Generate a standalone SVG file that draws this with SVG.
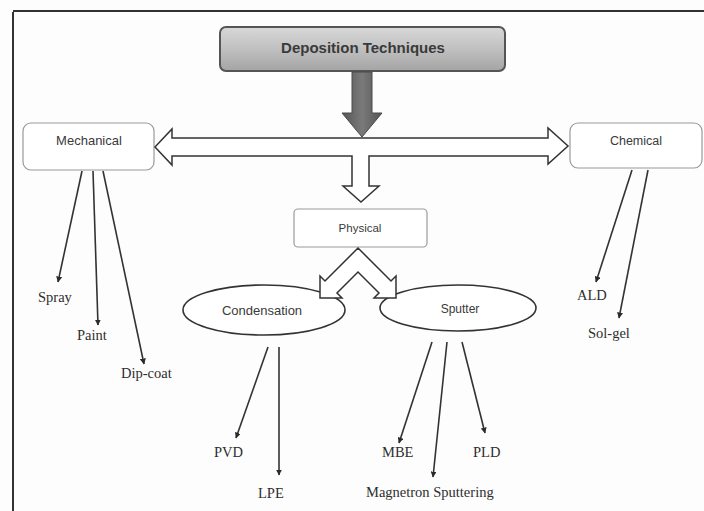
<svg xmlns="http://www.w3.org/2000/svg" width="704" height="511" viewBox="0 0 704 511">
<defs>
<linearGradient id="gTop" x1="0" y1="0" x2="0" y2="1">
<stop offset="0" stop-color="#d8d8d8"/>
<stop offset="0.5" stop-color="#c0c0c0"/>
<stop offset="1" stop-color="#a4a4a4"/>
</linearGradient>
<linearGradient id="gArr" x1="0" y1="0" x2="1" y2="0">
<stop offset="0" stop-color="#555"/>
<stop offset="0.5" stop-color="#7a7a7a"/>
<stop offset="1" stop-color="#555"/>
</linearGradient>
<marker id="ah" viewBox="0 0 10 10" refX="9" refY="5" markerWidth="6" markerHeight="6" markerUnits="userSpaceOnUse" orient="auto">
<path d="M0,0 L10,5 L0,10 z" fill="#2a2a2a"/>
</marker>
<style>
.box{fill:#fff;stroke:#9a9a9a;stroke-width:1.2}
.ell{fill:#fff;stroke:#333;stroke-width:1.6}
.nt{font-family:"Liberation Sans",Arial,sans-serif;font-size:12px;fill:#3a3a3a;text-anchor:middle}
.lb{font-family:"Liberation Serif","Times New Roman",serif;font-size:14.5px;fill:#2e2e2e}
.cn{stroke:#333;stroke-width:1.6;fill:none;marker-end:url(#ah)}
.hol{fill:#fff;stroke:#333;stroke-width:1.5;stroke-linejoin:miter}
</style>
</defs>
<rect width="704" height="511" fill="#fdfdfd"/>
<g id="frame" fill="none" stroke="#333" stroke-width="2">
<line x1="13" y1="12" x2="13" y2="511"/>
<line x1="13" y1="11" x2="704" y2="11"/>
</g>
<g id="deposition">
<rect x="220" y="27" width="285" height="44" rx="6" fill="url(#gTop)" stroke="#555" stroke-width="2"/>
<text x="363" y="53" class="nt" style="font-weight:bold;font-size:15px;fill:#3a3a3a">Deposition Techniques</text>
</g>
<g id="mechanical">
<rect class="box" x="23" y="123" width="131" height="47" rx="8"/>
<text x="89" y="145" class="nt" style="font-size:13px">Mechanical</text>
</g>
<g id="chemical">
<rect class="box" x="570" y="123" width="132" height="45" rx="8"/>
<text x="636" y="145" class="nt" style="font-size:12.5px">Chemical</text>
</g>
<g id="physical">
<rect class="box" x="294" y="209" width="133" height="38" rx="4"/>
<text x="360" y="232" class="nt" style="font-size:11.5px">Physical</text>
</g>
<g id="condensation">
<ellipse class="ell" cx="264" cy="310" rx="81" ry="25"/>
<text x="262" y="315" class="nt" style="font-size:13px">Condensation</text>
</g>
<g id="sputter">
<ellipse class="ell" cx="458" cy="308" rx="78" ry="23"/>
<text x="460" y="313" class="nt" style="font-size:12px">Sputter</text>
</g>
<g id="spray"><text class="lb" x="38" y="302">Spray</text></g>
<g id="paint"><text class="lb" x="77" y="340">Paint</text></g>
<g id="dipcoat"><text class="lb" x="121" y="378">Dip-coat</text></g>
<g id="ald"><text class="lb" x="577" y="300">ALD</text></g>
<g id="solgel"><text class="lb" x="588" y="338">Sol-gel</text></g>
<g id="pvd"><text class="lb" x="214" y="457">PVD</text></g>
<g id="lpe"><text class="lb" x="258" y="498">LPE</text></g>
<g id="mbe"><text class="lb" x="382" y="457">MBE</text></g>
<g id="pld"><text class="lb" x="473" y="457">PLD</text></g>
<g id="magnetron"><text class="lb" x="366" y="497">Magnetron Sputtering</text></g>
<g id="connectors">
<polygon class="hol" points="155,147 172,129 172,138 548,138 548,128 568,146 548,164 548,156 369,156 369,186 379,186 361,202 343,186 352,186 352,156 172,156 172,165"/>
<polygon points="352,72 372,72 372,113 382,113 362,137 342,113 352,113" fill="url(#gArr)" stroke="#4a4a4a" stroke-width="1"/>
<polygon class="hol" points="358,248 391,281 396,276 396,298 374,298 379,293 358,272 337,293 342,298 320,298 320,276 325,281"/>
<line class="cn" x1="82" y1="171" x2="58" y2="282"/>
<line class="cn" x1="93" y1="171" x2="98" y2="325"/>
<line class="cn" x1="103" y1="171" x2="144" y2="364"/>
<line class="cn" x1="632" y1="170" x2="596" y2="282"/>
<line class="cn" x1="648" y1="170" x2="619" y2="318"/>
<line class="cn" x1="268" y1="347" x2="236" y2="438"/>
<line class="cn" x1="279" y1="347" x2="279" y2="475"/>
<line class="cn" x1="432" y1="342" x2="399" y2="443"/>
<line class="cn" x1="447" y1="342" x2="433" y2="477"/>
<line class="cn" x1="462" y1="342" x2="485" y2="433"/>
</g>
</svg>
